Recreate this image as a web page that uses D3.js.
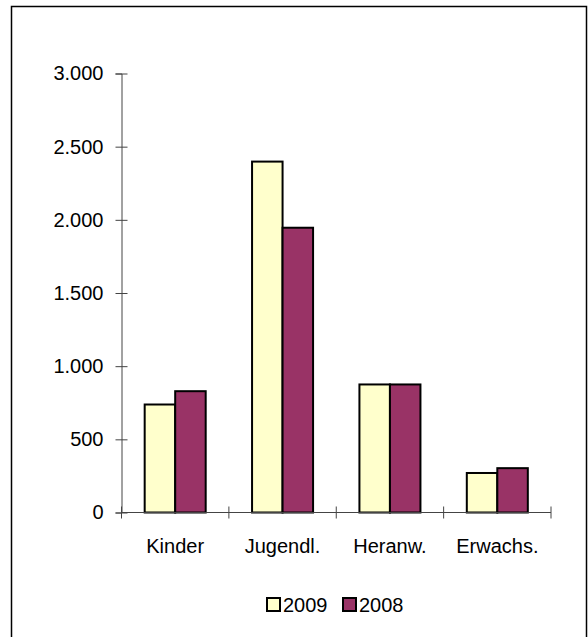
<!DOCTYPE html>
<html>
<head>
<meta charset="utf-8">
<script src="https://cdn.jsdelivr.net/npm/d3@7"></script>
<style>
  body { margin: 0; background: #fff; }
  text { font-family: "Liberation Sans", Arial, sans-serif; fill: #000; }
</style>
</head>
<body>
<div id="chart"></div>
<script>
const categories = ['Kinder', 'Jugendl.', 'Heranw.', 'Erwachs.'];
const series = ['2009', '2008'];
const values2009 = [738, 2398, 875, 270];
const values2008 = [829, 1946, 875, 303];
const yTicks = [0, 500, 1000, 1500, 2000, 2500, 3000];
const colors = { '2009': '#FFFFCC', '2008': '#993366' };

const width = 588;
const height = 637;

const svg = d3.select('#chart').append('svg')
  .attr('width', width)
  .attr('height', height);

// outer frame
svg.append('rect')
  .attr('x', 11.5)
  .attr('y', 6.5)
  .attr('width', 575)
  .attr('height', 640)
  .attr('fill', 'none')
  .attr('stroke', '#000')
  .attr('stroke-width', 1.5);

const x0 = d3.scaleBand()
  .domain(categories)
  .range([121.5, 551]);

const x1 = d3.scaleBand()
  .domain(series)
  .range([0, x0.bandwidth()])
  .paddingOuter(0.76);

const y = d3.scaleLinear()
  .domain([0, 3000])
  .range([512.5, 73.5]);

const de = d3.formatLocale({ decimal: ',', thousands: '.', grouping: [3], currency: ['', ' €'] });

const rows = categories.map((c, i) => ({
  cat: c,
  vals: [{ s: '2009', v: values2009[i] }, { s: '2008', v: values2008[i] }],
}));

// y axis
const yAxis = svg.append('g')
  .attr('transform', 'translate(121.5,0)')
  .call(d3.axisLeft(y).tickValues(yTicks).tickFormat(de.format(',')).tickSize(6).tickPadding(12));
yAxis.select('.domain').attr('stroke', '#444');
yAxis.selectAll('.tick line').attr('x1', 6).attr('x2', -6).attr('stroke', '#444');
yAxis.selectAll('.tick text')
  .style('font-size', '20px')
  .style('font-family', '"Liberation Sans", Arial, sans-serif')
  .attr('fill', '#000');

// bars
const groups = svg.selectAll('.group')
  .data(rows)
  .enter().append('g')
  .attr('class', 'group')
  .attr('transform', d => `translate(${x0(d.cat)},0)`);

groups.selectAll('rect')
  .data(d => d.vals)
  .enter().append('rect')
  .attr('x', d => x1(d.s))
  .attr('y', d => y(d.v))
  .attr('width', x1.bandwidth())
  .attr('height', d => y(0) - y(d.v))
  .attr('fill', d => colors[d.s])
  .attr('stroke', '#000')
  .attr('stroke-width', 2);

// x axis
const xAxis = svg.append('g')
  .attr('transform', `translate(0,${y(0)})`);
xAxis.append('line')
  .attr('x1', 121.5).attr('x2', 551)
  .attr('stroke', '#444');
const xTicks = categories.map(c => x0(c)).concat([x0.range()[1]]);
xAxis.selectAll('.xtick')
  .data(xTicks)
  .enter().append('line')
  .attr('class', 'xtick')
  .attr('x1', d => d).attr('x2', d => d)
  .attr('y1', -6).attr('y2', 6)
  .attr('stroke', '#444');
xAxis.selectAll('.xlabel')
  .data(categories)
  .enter().append('text')
  .attr('class', 'xlabel')
  .attr('x', d => x0(d) + x0.bandwidth() / 2)
  .attr('y', 40)
  .attr('text-anchor', 'middle')
  .style('font-size', '20px')
  .text(d => d);

// legend
const legendX = [267, 343];
const legend = svg.selectAll('.legend')
  .data(series)
  .enter().append('g')
  .attr('class', 'legend')
  .attr('transform', (d, i) => `translate(${legendX[i]},598)`);
legend.append('rect')
  .attr('width', 13)
  .attr('height', 13)
  .attr('fill', d => colors[d])
  .attr('stroke', '#000')
  .attr('stroke-width', 2);
legend.append('text')
  .attr('x', 16)
  .attr('y', 14)
  .style('font-size', '20px')
  .text(d => d);
</script>
</body>
</html>
